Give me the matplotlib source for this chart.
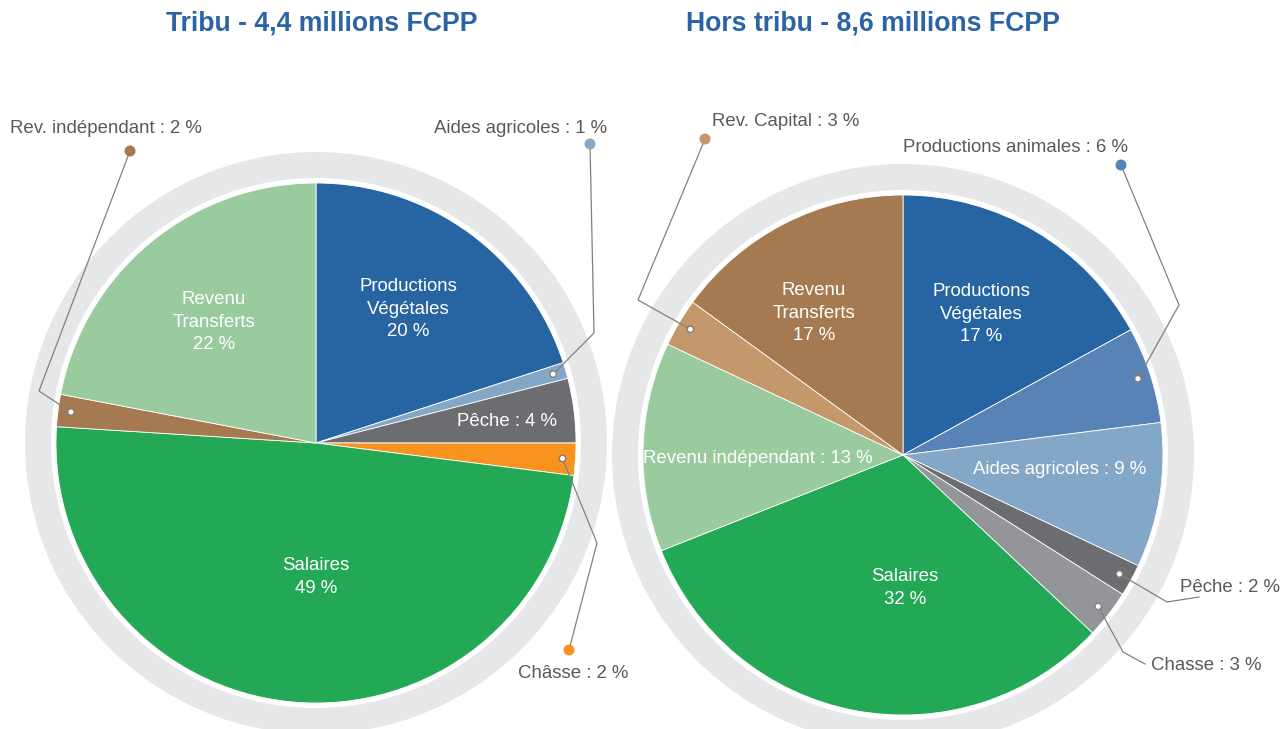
import math
import matplotlib
matplotlib.use("Agg")
import matplotlib.pyplot as plt
from matplotlib.patches import Wedge, Circle

plt.rcParams['font.family'] = ['Liberation Sans', 'DejaVu Sans']

# Données : Tribu
left_title = "Tribu - 4,4 millions FCPP"
left_names = ["Productions Végétales", "Aides agricoles", "Pêche", "Châsse",
              "Salaires", "Rev. indépendant", "Revenu Transferts"]
left_values = [20, 1, 4, 2, 49, 2, 22]
left_texts = ["Productions\nVégétales\n20 %", "Aides agricoles : 1 %", "Pêche : 4 %",
              "Châsse : 2 %", "Salaires\n49 %", "Rev. indépendant : 2 %",
              "Revenu\nTransferts\n22 %"]

# Données : Hors tribu
right_title = "Hors tribu - 8,6 millions FCPP"
right_names = ["Productions Végétales", "Productions animales", "Aides agricoles", "Pêche",
               "Chasse", "Salaires", "Revenu indépendant", "Rev. Capital", "Revenu Transferts"]
right_values = [17, 6, 9, 2, 3, 32, 13, 3, 15]
right_texts = ["Productions\nVégétales\n17 %", "Productions animales : 6 %",
               "Aides agricoles : 9 %", "Pêche : 2 %", "Chasse : 3 %", "Salaires\n32 %",
               "Revenu indépendant : 13 %", "Rev. Capital : 3 %", "Revenu\nTransferts\n17 %"]

# Couleurs
BLUE = "#2764A2"
BLUE2 = "#5783B6"
BLUE3 = "#84A6C7"
DGREY = "#6C6D71"
GREY = "#949599"
ORANGE = "#F7931E"
GREEN = "#23A855"
LGREEN = "#99CB9F"
BROWN = "#A67A51"
LBROWN = "#C4986B"
RING = "#E6E7E9"
TITLE = "#2B64A6"
TXT = "#595959"
LINE = "#808080"

left_colors = [BLUE, BLUE3, DGREY, ORANGE, GREEN, BROWN, LGREEN]
right_colors = [BLUE, BLUE2, BLUE3, DGREY, GREY, GREEN, LGREEN, LBROWN, BROWN]

# Mise en page (pixels, y vers le bas)
R = 260
FS = 13.4
left_center = (316, 443)
right_center = (903, 455)

# étiquettes internes : index -> (x, y)
left_inside = {0: (408, 309), 2: (507, 421), 4: (316, 577), 6: (214, 322)}
right_inside = {0: (981, 314), 2: (1060, 469), 5: (905, 588), 6: (758, 458), 8: (814, 313)}

# étiquettes externes : index -> (texte x, texte y, ha, coude, extrémité, pastille?)
left_callouts = {
    1: (607, 128, "right", (594, 333), (590, 144), True),
    3: (628, 673, "right", (597, 543), (569, 650), True),
    5: (10, 128, "left", (39, 391), (130, 151), True),
}
right_callouts = {
    1: (903, 147, "left", (1179, 305), (1121, 165), True),
    3: (1180, 587, "left", (1167, 602), (1199, 597), False),
    4: (1151, 665, "left", (1123, 652), (1145, 664), False),
    7: (712, 121, "left", (638, 300), (705, 139), True),
}

fig = plt.figure(figsize=(12.83, 7.29), dpi=100)
ax = fig.add_axes([0, 0, 1, 1])


def draw_pie(center, values, colors, texts, inside, callouts, title, title_x):
    cx, cy = center
    ax.add_patch(Wedge(center, 291, 0, 360, width=26, facecolor=RING, edgecolor="none", zorder=0))
    wedges, _ = ax.pie(values, colors=colors, center=center, radius=R,
                       startangle=-90, counterclock=True,
                       wedgeprops=dict(edgecolor="white", linewidth=0.6))
    for w in wedges:
        w.set_zorder(1)
    for i, (x, y) in inside.items():
        ax.text(x, y, texts[i], color="white", fontsize=FS, ha="center", va="center",
                linespacing=1.42, zorder=3)
    for i, (tx, ty, ha, elbow, end, dot) in callouts.items():
        w = wedges[i]
        mid = math.radians((w.theta1 + w.theta2) / 2)
        px = cx + 0.95 * R * math.cos(mid)
        py = cy + 0.95 * R * math.sin(mid)
        ax.plot([px, elbow[0], end[0]], [py, elbow[1], end[1]], color=LINE, lw=0.9, zorder=4)
        ax.add_patch(Circle((px, py), 3.2, facecolor="white", edgecolor=LINE, lw=1, zorder=5))
        if dot:
            ax.add_patch(Circle(end, 5.5, facecolor=colors[i], edgecolor="none", zorder=5))
        ax.text(tx, ty, texts[i], color=TXT, fontsize=FS, ha=ha, va="center", zorder=5)
    ax.text(title_x, 23, title, color=TITLE, fontsize=19.2, fontweight="bold",
            ha="center", va="center")


draw_pie(left_center, left_values, left_colors, left_texts, left_inside, left_callouts,
         left_title, 322)
draw_pie(right_center, right_values, right_colors, right_texts, right_inside, right_callouts,
         right_title, 873)

ax.set_xlim(0, 1283)
ax.set_ylim(729, 0)
ax.set_aspect("equal")
ax.axis("off")

fig.savefig("out.png", dpi=100)
